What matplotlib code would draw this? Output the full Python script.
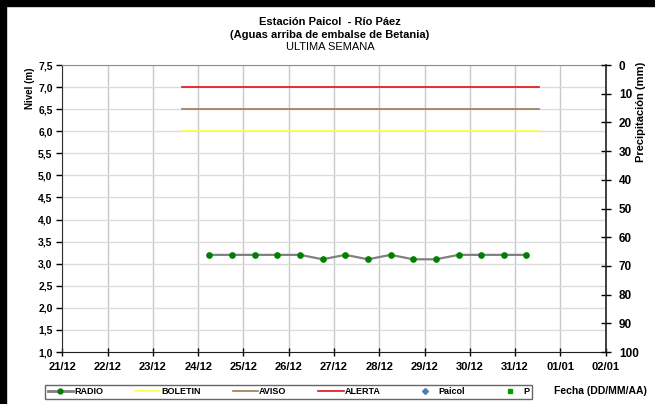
import numpy as np
import pandas as pd
import matplotlib
matplotlib.use('Agg')
import matplotlib.pyplot as plt
import matplotlib.dates as mdates
from matplotlib.lines import Line2D
from matplotlib.patches import Rectangle

plt.rcParams['font.family'] = ['Liberation Sans', 'DejaVu Sans']

# datos
radio_times = pd.date_range('2011-12-24 06:00', '2011-12-31 06:00', freq='12h')
radio_nivel = [3.2, 3.2, 3.2, 3.2, 3.2, 3.1, 3.2, 3.1, 3.2, 3.1, 3.1, 3.2, 3.2, 3.2, 3.2]
umbral_inicio = pd.Timestamp('2011-12-23 15:30')
umbral_fin = pd.Timestamp('2011-12-31 12:30')
boletin = 6.0
aviso = 6.5
alerta = 7.0
x_ini = pd.Timestamp('2011-12-21')
x_fin = pd.Timestamp('2012-01-02')

fig = plt.figure(figsize=(6.55, 4.04), dpi=100)
ax = fig.add_axes([0.0951, 0.1287, 0.8296, 0.7104])

ax.plot([umbral_inicio, umbral_fin], [boletin, boletin], color='#ffff40', lw=1.2, label='BOLETIN')
ax.plot([umbral_inicio, umbral_fin], [aviso, aviso], color='#a07850', lw=1.2, label='AVISO')
ax.plot([umbral_inicio, umbral_fin], [alerta, alerta], color='#e01010', lw=1.2, label='ALERTA')
ax.plot(radio_times, radio_nivel, color='#808080', lw=1.6, marker='o', ms=3.8,
        mfc='#008000', mec='#008000', label='RADIO', zorder=5)

ax.set_xlim(x_ini, x_fin)
ax.set_ylim(1.0, 7.5)
ax.set_yticks(np.arange(1.0, 7.51, 0.5))
ax.set_yticklabels([f'{v:.1f}'.replace('.', ',') for v in np.arange(1.0, 7.51, 0.5)])
ax.xaxis.set_major_locator(mdates.DayLocator())
ax.xaxis.set_major_formatter(mdates.DateFormatter('%d/%m'))
ax.grid(axis='x', color='#c8c8c8', lw=1)
ax.grid(axis='y', color='#dcdcdc', lw=1)
ax.set_axisbelow(True)
ax.tick_params(axis='y', direction='out', length=4, width=1, labelsize=7.5, pad=3)
ax.tick_params(axis='x', direction='inout', length=6, width=1, labelsize=8, pad=4)
for lbl in ax.get_xticklabels() + ax.get_yticklabels():
    lbl.set_fontweight('bold')
ax.spines['top'].set_color('#909090')
ax.spines['left'].set_color('#303030')
ax.spines['bottom'].set_color('#202020')
ax.spines['right'].set_visible(False)

ax2 = ax.twinx()
ax2.set_ylim(100, 0)
ax2.set_yticks(np.arange(0, 101, 10))
ax2.tick_params(axis='y', direction='inout', length=7, width=1, labelsize=8.5, pad=6)
for lbl in ax2.get_yticklabels():
    lbl.set_fontweight('bold')
ax2.spines['right'].set_color('#202020')
ax2.spines['right'].set_linewidth(1.2)
for s in ['top', 'left', 'bottom']:
    ax2.spines[s].set_visible(False)

fig.text(30 / 655, 1 - 88 / 404, 'Nivel (m)', rotation=90, ha='center', va='center',
         fontsize=7, fontweight='bold')
fig.text(641 / 655, 1 - 112 / 404, 'Precipitación (mm)', rotation=90, ha='center', va='center',
         fontsize=8, fontweight='bold')

fig.text(0.504, 1 - 22 / 404, 'Estación Paicol  - Río Páez', ha='center', va='center',
         fontsize=8, fontweight='bold')
fig.text(0.504, 1 - 35 / 404, '(Aguas arriba de embalse de Betania)', ha='center', va='center',
         fontsize=8, fontweight='bold')
fig.text(0.504, 1 - 47 / 404, 'ULTIMA SEMANA', ha='center', va='center', fontsize=8)

handles = [
    Line2D([], [], color='#808080', lw=2, marker='o', ms=3.5, mfc='#008000', mec='#008000'),
    Line2D([], [], color='#ffff40', lw=1.2),
    Line2D([], [], color='#a07850', lw=1.2),
    Line2D([], [], color='#e01010', lw=1.2),
    Line2D([], [], ls='none', marker='D', ms=3, color='#4a7ebb'),
    Line2D([], [], ls='none', marker='s', ms=2.5, color='#00a000'),
]
labels = ['RADIO', 'BOLETIN', 'AVISO', 'ALERTA', 'Paicol', 'P']
leg = fig.legend(handles, labels, ncol=6, loc='lower left',
                 bbox_to_anchor=(45 / 655, 1 - 399 / 404, 487 / 655, 18 / 404),
                 mode='expand', frameon=True, fancybox=False, edgecolor='#404040',
                 prop={'size': 6.5, 'weight': 'bold'}, handlelength=2.8,
                 handletextpad=0.1, borderpad=0.3, borderaxespad=0)
leg.get_frame().set_linewidth(1)

fig.text(600 / 655, 1 - 391 / 404, 'Fecha (DD/MM/AA)', ha='center', va='center',
         fontsize=7.5, fontweight='bold')

# marco negro
fig.patches.append(Rectangle((0, 0), 6 / 655, 1, transform=fig.transFigure,
                             color='black', zorder=10))
fig.patches.append(Rectangle((0, 1 - 6 / 404), 1, 6 / 404, transform=fig.transFigure,
                             color='black', zorder=10))

fig.savefig('out.png', dpi=100)
